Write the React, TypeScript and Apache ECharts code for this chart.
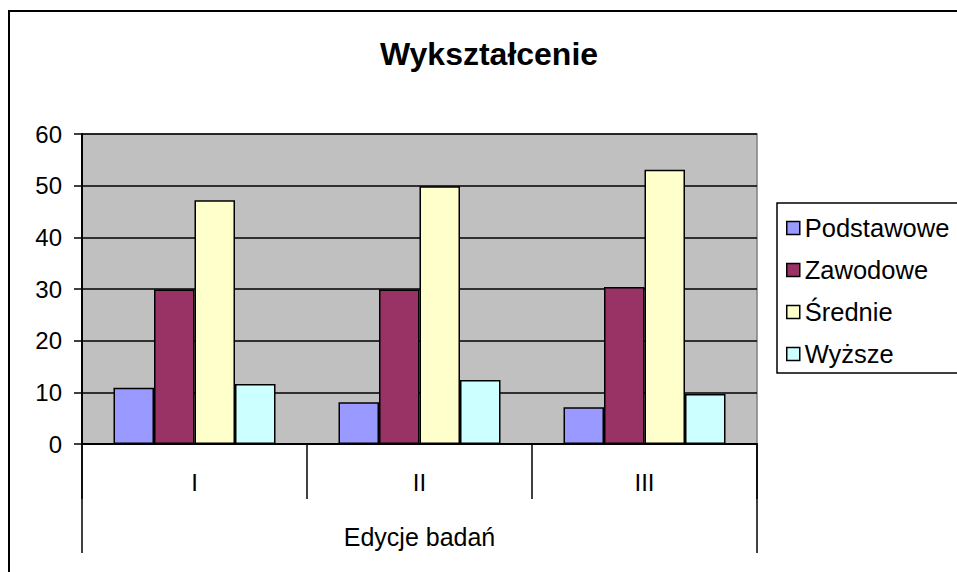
import React, { useEffect, useRef } from "react";
import * as echarts from "echarts";

const categories = ["I", "II", "III"];
const axisTitle = ["Edycje badań"];
const seriesNames = ["Podstawowe", "Zawodowe", "Średnie", "Wyższe"];
const podstawowe = [10.9, 8.1, 7.1];
const zawodowe = [29.9, 29.9, 30.4];
const srednie = [47.2, 49.9, 53.1];
const wyzsze = [11.6, 12.4, 9.7];
const colors = ["#9999FF", "#993366", "#FFFFCC", "#CCFFFF"];
const yTicks = { min: 0, max: 60, interval: 10 };

const FONT = "'Liberation Sans', Arial, sans-serif";

export default function App() {
  const ref = useRef<HTMLDivElement>(null);
  useEffect(() => {
    if (!ref.current) return;
    const chart = echarts.init(ref.current, undefined, { renderer: "svg" });
    const values = [podstawowe, zawodowe, srednie, wyzsze];
    chart.setOption({
      animation: false,
      backgroundColor: "#ffffff",
      textStyle: { fontFamily: FONT, color: "#000" },
      title: {
        text: "Wykształcenie",
        left: 484,
        textAlign: "center",
        top: 33,
        textStyle: { fontFamily: FONT, fontSize: 32, fontWeight: "bold", color: "#000" },
      },
      graphic: [
        {
          type: "rect",
          shape: { x: 9, y: 11, width: 1000, height: 600 },
          style: { fill: "none", stroke: "#000", lineWidth: 2 },
          z: 0,
        },
      ],
      legend: {
        orient: "vertical",
        left: 777,
        top: 203,
        padding: [12, 40, 6, 9],
        itemWidth: 13,
        itemHeight: 13,
        itemGap: 16,
        itemStyle: { borderColor: "#000", borderWidth: 1.5 },
        icon: "rect",
        backgroundColor: "#fff",
        borderColor: "#000",
        borderWidth: 1.5,
        textStyle: { fontFamily: FONT, fontSize: 25.5, color: "#000", lineHeight: 24, padding: [0, 0, 0, 0] },
        itemTextGap: 15,
        data: seriesNames,
      },
      grid: {
        left: 82,
        top: 134,
        right: 200,
        bottom: 128,
        show: true,
        backgroundColor: "#C0C0C0",
        borderColor: "#808080",
        borderWidth: 1.5,
      },
      xAxis: [
        {
          type: "category",
          data: categories,
          position: "bottom",
          offset: 0,
          axisLine: { show: true, lineStyle: { color: "#000", width: 2 } },
          axisTick: { show: true, interval: 0, length: 55, lineStyle: { color: "#000", width: 1.5 } },
          axisLabel: { margin: 26, fontSize: 24, color: "#000", fontFamily: FONT },
          splitLine: { show: false },
        },
        {
          type: "category",
          data: axisTitle,
          position: "bottom",
          offset: 0,
          axisLine: { show: false },
          axisTick: { show: true, interval: 0, length: 109, lineStyle: { color: "#000", width: 1.5 } },
          axisLabel: { margin: 80, fontSize: 25, color: "#000", fontFamily: FONT },
          splitLine: { show: false },
        },
      ],
      yAxis: {
        type: "value",
        min: yTicks.min,
        max: yTicks.max,
        interval: yTicks.interval,
        axisLine: { show: true, lineStyle: { color: "#000", width: 2 } },
        axisTick: { show: true, length: 8, lineStyle: { color: "#000", width: 1.5 } },
        axisLabel: { margin: 20, fontSize: 24, color: "#000", fontFamily: FONT },
        splitLine: { show: true, lineStyle: { color: "#000", width: 1.5 } },
      },
      series: seriesNames.map((name, i) => ({
        name,
        type: "bar",
        xAxisIndex: 0,
        yAxisIndex: 0,
        data: values[i],
        barGap: "0%",
        barCategoryGap: "28%",
        itemStyle: { color: colors[i], borderColor: "#000", borderWidth: 1.5 },
      })),
    });
    return () => chart.dispose();
  }, []);
  return (
    <div
      ref={ref}
      style={{ position: "fixed", left: 0, top: 0, width: 957, height: 572, background: "#fff" }}
    />
  );
}
